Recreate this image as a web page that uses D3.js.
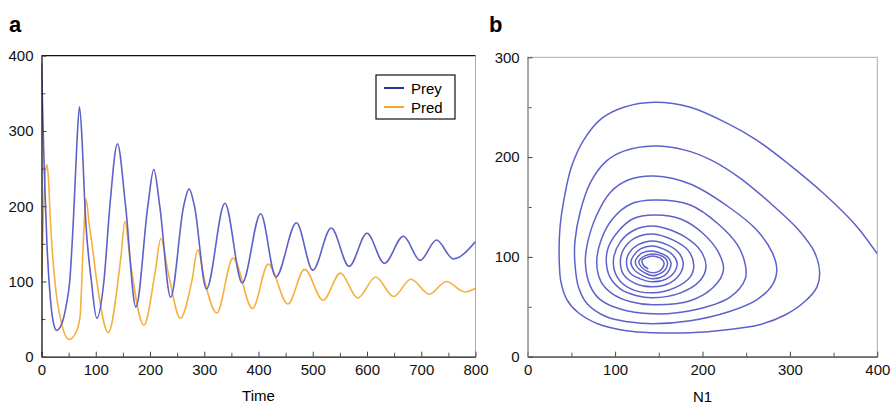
<!DOCTYPE html>
<html>
<head>
<meta charset="utf-8">
<script src="https://cdn.jsdelivr.net/npm/d3@7"></script>
<style>
  body { margin: 0; background: #fff; }
  svg { font-family: "Liberation Sans", Arial, sans-serif; }
  .tick text { font-size: 15px; fill: #111; }
</style>
</head>
<body>
<svg width="893" height="404"></svg>
<script>
/* values */

// panel a: prey (time, value)
var preyT = [0, 2, 5, 10, 16, 22, 28, 38, 46, 52, 60, 65, 70, 75, 80, 92, 102, 115, 126, 140, 155, 174, 196, 207, 218, 238, 262, 272, 282, 304, 338, 370, 404, 432, 470, 500, 534, 567, 600, 632, 667, 698, 728, 759, 800];
var preyV = [390, 330, 250, 150, 80, 45, 35, 45, 70, 100, 200, 280, 332, 285, 200, 100, 51, 100, 200, 283, 200, 66, 200, 249, 200, 79, 200, 223, 200, 90, 204, 98, 190, 106, 178, 115, 171, 120, 164, 124, 160, 128, 155, 130, 153];

// panel a: predator (time, value)
var predT = [0, 4, 7, 10, 13, 16, 25, 37, 51, 62, 71, 77, 82, 88, 93, 102, 123, 146, 154, 163, 189, 209, 220, 234, 256, 277, 288, 301, 323, 353, 389, 418, 454, 485, 519, 551, 583, 616, 649, 681, 715, 746, 780, 800];
var predV = [105, 200, 245, 255, 235, 186, 98, 44, 23, 30, 53, 150, 210, 175, 150, 100, 32, 130, 180, 130, 42, 110, 157, 110, 51, 100, 142, 100, 58, 131, 64, 123, 70, 116, 75, 111, 78, 106, 80, 103, 83, 100, 86, 91];

// panel b: phase plane trajectory (N1, N2)
var phaseN1 = [400, 375, 338, 300, 262, 228, 186, 145,
  110, 85, 64, 50, 42, 37, 36, 38, 45, 58, 80, 113, 143,
  186, 228, 265, 295, 318, 331, 334, 328, 310, 280, 243, 210, 180, 145,
  110, 90, 72, 60, 54, 54, 58, 68, 90, 115, 143,
  186, 230, 262, 280, 285, 280, 262, 230, 186, 145,
  115, 95, 78, 68, 66, 71, 82, 105, 143,
  186, 232, 249, 249, 240, 218, 186, 145,
  118, 97, 84, 79, 84, 97, 118, 143,
  186, 213, 224, 218, 200, 175, 145,
  120, 103, 92, 90, 94, 106, 125, 143,
  175, 197, 204, 198, 180, 160, 143,
  122, 106, 98, 103, 118, 143,
  168, 186, 190, 184, 166, 143,
  123, 110, 106, 110, 124, 143,
  163, 175, 178, 173, 160, 143,
  126, 116, 113, 117, 129, 143,
  159, 168, 171, 166, 155, 143,
  129, 121, 118, 122, 132, 143,
  156, 162, 164, 160, 151, 143,
  131, 125, 123, 126, 134, 143,
  153, 158, 160, 157, 150, 143,
  134, 129, 127, 130, 136, 143,
  151, 155, 156, 153, 148, 143,
  135, 131, 131, 133, 138];
var phaseN2 = [103, 132, 164, 192, 217, 234, 250, 255,
  250, 239, 217, 190, 160, 130, 100, 75, 57, 44, 33, 26, 24,
  24, 27, 32, 42, 56, 70, 85, 105, 127, 152, 179, 197, 207, 211,
  206, 196, 175, 145, 115, 94, 70, 53, 40, 35, 33,
  36, 45, 57, 72, 87, 104, 127, 150, 173, 181,
  177, 165, 140, 112, 94, 72, 58, 48, 43,
  46, 60, 78, 92, 112, 133, 152, 157,
  153, 138, 117, 95, 75, 63, 55, 52,
  56, 70, 87, 105, 124, 138, 142,
  138, 125, 109, 94, 80, 68, 61, 59,
  64, 76, 90, 106, 120, 128, 131,
  127, 115, 96, 79, 68, 64,
  69, 80, 92, 106, 117, 123,
  119, 108, 95, 82, 73, 70,
  74, 84, 94, 104, 112, 116,
  112, 104, 95, 84, 78, 75,
  78, 85, 94, 102, 108, 111,
  108, 101, 95, 87, 81, 78,
  81, 87, 94, 100, 104, 106,
  104, 99, 95, 89, 84, 81,
  84, 88, 94, 99, 102, 103,
  101, 98, 95, 90, 86, 84,
  86, 90, 94, 98, 100, 101,
  99, 97, 94, 91, 88];

var preyColor = "#5d61c9",
    predColor = "#f6b03e";

var svg = d3.select("svg");

/* ---------- panel a ---------- */
var pa = {left: 41.5, right: 475.5, top: 55.7, bottom: 356.7};

var xa = d3.scaleLinear().domain([0, 800]).range([pa.left, pa.right]),
    ya = d3.scaleLinear().domain([0, 400]).range([pa.bottom, pa.top]);

svg.append("defs").append("clipPath")
    .attr("id", "clipA")
  .append("rect")
    .attr("x", pa.left).attr("y", pa.top)
    .attr("width", pa.right - pa.left).attr("height", pa.bottom - pa.top);

// frame: right side grey
svg.append("line")
    .attr("x1", pa.right).attr("x2", pa.right)
    .attr("y1", pa.top).attr("y2", pa.bottom)
    .attr("stroke", "#aaa");
svg.append("line")
    .attr("x1", pa.left).attr("x2", pa.right)
    .attr("y1", pa.top).attr("y2", pa.top)
    .attr("stroke", "#111").attr("stroke-width", 1.3);

var preyLine = d3.line()
    .curve(d3.curveMonotoneX)
    .x(function(d, i) { return xa(preyT[i]); })
    .y(function(d) { return ya(d); });

var predLine = d3.line()
    .curve(d3.curveMonotoneX)
    .x(function(d, i) { return xa(predT[i]); })
    .y(function(d) { return ya(d); });

var ga = svg.append("g").attr("clip-path", "url(#clipA)");

ga.append("path")
    .datum(predV)
    .attr("fill", "none")
    .attr("stroke", predColor)
    .attr("stroke-width", 1.6)
    .attr("d", predLine);

ga.append("path")
    .datum(preyV)
    .attr("fill", "none")
    .attr("stroke", preyColor)
    .attr("stroke-width", 1.6)
    .attr("d", preyLine);

function styleAxis(g, col) {
  g.select(".domain").attr("stroke", col).attr("stroke-width", 1.3);
  g.selectAll(".tick line").attr("stroke", "#444");
}

// minor ticks (50s) inward
svg.append("g")
    .attr("transform", "translate(0," + pa.bottom + ")")
    .call(d3.axisTop(xa).tickValues(d3.range(50, 800, 100)).tickSize(4).tickFormat(""))
    .call(function(g) { g.select(".domain").remove(); g.selectAll("line").attr("stroke", "#555"); });
svg.append("g")
    .attr("transform", "translate(" + pa.left + ",0)")
    .call(d3.axisRight(ya).tickValues(d3.range(50, 400, 100)).tickSize(4).tickFormat(""))
    .call(function(g) { g.select(".domain").remove(); g.selectAll("line").attr("stroke", "#555"); });

svg.append("g")
    .attr("transform", "translate(0," + pa.bottom + ")")
    .call(d3.axisBottom(xa).tickValues(d3.range(0, 801, 100)).tickSizeInner(-5).tickSizeOuter(0).tickPadding(8))
    .call(function(g) { styleAxis(g, "#111"); });

svg.append("g")
    .attr("transform", "translate(" + pa.left + ",0)")
    .call(d3.axisLeft(ya).tickValues(d3.range(0, 401, 100)).tickSizeInner(-5).tickSizeOuter(0).tickPadding(8))
    .call(function(g) { styleAxis(g, "#111"); });

svg.append("text")
    .attr("x", (pa.left + pa.right) / 2).attr("y", 401)
    .attr("text-anchor", "middle")
    .style("font-size", "15px")
    .text("Time");

svg.append("text")
    .attr("x", 9).attr("y", 32)
    .style("font-size", "22px").style("font-weight", "bold")
    .text("a");

// legend
var leg = svg.append("g").attr("transform", "translate(376,75)");
leg.append("rect")
    .attr("width", 79).attr("height", 44)
    .attr("fill", "#fff").attr("stroke", "#111").attr("stroke-width", 1.2);
var legNames = ["Prey", "Pred"],
    legCols = ["#2e3192", "#f5a623"];
legNames.forEach(function(n, i) {
  leg.append("line")
      .attr("x1", 8).attr("x2", 28)
      .attr("y1", 13 + i * 19).attr("y2", 13 + i * 19)
      .attr("stroke", legCols[i]).attr("stroke-width", 2);
  leg.append("text")
      .attr("x", 35).attr("y", 18.5 + i * 19)
      .style("font-size", "15px")
      .text(n);
});

/* ---------- panel b ---------- */
var pb = {left: 527.7, right: 877.3, top: 57.3, bottom: 356.7};

var xb = d3.scaleLinear().domain([0, 400]).range([pb.left, pb.right]),
    yb = d3.scaleLinear().domain([0, 300]).range([pb.bottom, pb.top]);

svg.append("rect")
    .attr("x", pb.left).attr("y", pb.top)
    .attr("width", pb.right - pb.left).attr("height", pb.bottom - pb.top)
    .attr("fill", "none").attr("stroke", "#aaa");

svg.append("defs").append("clipPath")
    .attr("id", "clipB")
  .append("rect")
    .attr("x", pb.left).attr("y", pb.top)
    .attr("width", pb.right - pb.left).attr("height", pb.bottom - pb.top);

var phaseLine = d3.line()
    .curve(d3.curveCatmullRom.alpha(0.5))
    .x(function(d) { return xb(d); })
    .y(function(d, i) { return yb(phaseN2[i]); });

svg.append("path")
    .datum(phaseN1)
    .attr("clip-path", "url(#clipB)")
    .attr("fill", "none")
    .attr("stroke", preyColor)
    .attr("stroke-width", 1.5)
    .attr("d", phaseLine);

svg.append("g")
    .attr("transform", "translate(0," + pb.bottom + ")")
    .call(d3.axisTop(xb).tickValues(d3.range(50, 400, 100)).tickSize(4).tickFormat(""))
    .call(function(g) { g.select(".domain").remove(); g.selectAll("line").attr("stroke", "#555"); });
svg.append("g")
    .attr("transform", "translate(" + pb.left + ",0)")
    .call(d3.axisRight(yb).tickValues(d3.range(50, 300, 100)).tickSize(4).tickFormat(""))
    .call(function(g) { g.select(".domain").remove(); g.selectAll("line").attr("stroke", "#555"); });

svg.append("g")
    .attr("transform", "translate(0," + pb.bottom + ")")
    .call(d3.axisBottom(xb).tickValues(d3.range(0, 401, 100)).tickSizeInner(-5).tickSizeOuter(0).tickPadding(8))
    .call(function(g) { styleAxis(g, "#444"); });

svg.append("g")
    .attr("transform", "translate(" + pb.left + ",0)")
    .call(d3.axisLeft(yb).tickValues(d3.range(0, 301, 100)).tickSizeInner(-5).tickSizeOuter(0).tickPadding(8))
    .call(function(g) { styleAxis(g, "#999"); });

svg.append("text")
    .attr("x", (pb.left + pb.right) / 2).attr("y", 402)
    .attr("text-anchor", "middle")
    .style("font-size", "15px")
    .text("N1");

svg.append("text")
    .attr("x", 489).attr("y", 32)
    .style("font-size", "22px").style("font-weight", "bold")
    .text("b");
</script>
</body>
</html>
